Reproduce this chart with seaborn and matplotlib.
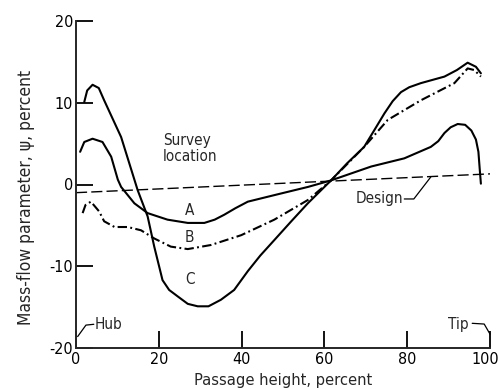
import matplotlib
matplotlib.use("Agg")
import matplotlib.pyplot as plt
import matplotlib.transforms as mtransforms
import seaborn as sns
import pandas as pd

# ---- data ----
a_x = [1.0, 2.0, 4.0, 6.4, 8.5, 10.1, 10.9, 14.1, 17.3, 22.1, 27.0, 31.0, 33.5, 35.8, 38.5, 41.5,
       47.9, 56.0, 61.6, 71.3, 79.3, 85.7, 87.5, 89.0, 90.5, 92.2, 94.0, 95.5, 96.6, 97.2, 97.5, 97.8]
a_y = [4.0, 5.2, 5.6, 5.2, 3.4, 0.6, -0.3, -2.3, -3.5, -4.3, -4.7, -4.7, -4.3, -3.7, -2.9, -2.1,
       -1.3, -0.3, 0.5, 2.2, 3.2, 4.6, 5.3, 6.3, 7.0, 7.4, 7.3, 6.6, 5.5, 4.0, 2.0, 0.1]

b_x = [1.6, 2.3, 3.6, 5.6, 6.8, 9.3, 12.5, 15.7, 18.9, 22.9, 27.0, 32.6, 39.9, 47.9,
       56.0, 61.6, 69.6, 75.3, 83.3, 91.4, 94.6, 96.2, 97.8]
b_y = [-3.5, -2.5, -2.1, -3.3, -4.5, -5.2, -5.2, -5.6, -6.6, -7.6, -7.9, -7.4, -6.2, -4.3,
       -1.9, 0.5, 4.6, 7.9, 10.3, 12.4, 14.2, 14.0, 13.2]

c_x = [2.0, 2.7, 4.0, 5.5, 6.8, 10.9, 14.9, 17.3, 18.9, 20.9, 22.5, 24.6, 27.0, 29.4, 32.0,
       35.0, 38.2, 41.5, 44.5, 47.9, 52.0, 56.0, 61.6, 65.5, 69.6, 72.0, 74.5, 76.5, 78.5,
       80.5, 83.3, 89.0, 92.0, 94.6, 96.6, 97.8]
c_y = [10.1, 11.5, 12.2, 11.8, 10.3, 5.8, -0.7, -3.9, -7.6, -11.7, -12.9, -13.7, -14.6, -14.9, -14.9,
       -14.1, -12.9, -10.6, -8.7, -6.8, -4.5, -2.3, 0.5, 2.6, 4.6, 6.6, 8.7, 10.2, 11.3,
       11.9, 12.4, 13.2, 14.0, 14.9, 14.4, 13.6]

design_x = [0, 100]
design_y = [-1.0, 1.3]

x_ticks = [0, 20, 40, 60, 80, 100]
y_ticks = [-20, -10, 0, 10, 20]

curve_labels = ["A", "B", "C"]
curve_label_x = [27.5, 27.5, 27.5]
curve_label_y = [-3.2, -6.5, -11.6]

# ---- style ----
sns.set_style("ticks")
plt.rcParams['font.family'] = ['DejaVu Sans']
plt.rcParams['font.stretch'] = 'condensed'
plt.rcParams['axes.linewidth'] = 1.4

FS = 11

fig = plt.figure(figsize=(4.99, 3.89), dpi=100)
ax = fig.add_axes([76/499, 1 - 348/389, 414/499, 327/389])

df_a = pd.DataFrame({"x": a_x, "y": a_y})
df_b = pd.DataFrame({"x": b_x, "y": b_y})
df_c = pd.DataFrame({"x": c_x, "y": c_y})
df_d = pd.DataFrame({"x": design_x, "y": design_y})

sns.lineplot(data=df_a, x="x", y="y", sort=False, estimator=None, color="black", lw=1.5, ax=ax)
sns.lineplot(data=df_c, x="x", y="y", sort=False, estimator=None, color="black", lw=1.5, ax=ax)
sns.lineplot(data=df_b, x="x", y="y", sort=False, estimator=None, color="black", lw=1.5, ax=ax)
ax.lines[-1].set_linestyle((0, (4.5, 1.6, 0.9, 1.6)))
sns.lineplot(data=df_d, x="x", y="y", sort=False, estimator=None, color="black", lw=1.0, ax=ax)
ax.lines[-1].set_linestyle((0, (8, 3)))
for ln in ax.lines:
    ln.set_solid_joinstyle("round")
    ln.set_solid_capstyle("round")

ax.set_xlim(0, 100)
ax.set_ylim(-20, 20)
ax.set_xticks(x_ticks)
ax.set_yticks(y_ticks)
ax.set_xticklabels([str(v) for v in x_ticks])
ax.set_yticklabels([str(v) for v in y_ticks])
ax.tick_params(direction="in", length=12.5, width=1.3, labelsize=11.5, color="black",
               labelcolor="black")
ax.tick_params(axis="y", pad=2)
ax.tick_params(axis="x", pad=3)
sns.despine(ax=ax)

ax.set_xlabel("Passage height, percent", fontsize=11.8)
ax.set_ylabel("Mass-flow parameter, \u03c8, percent", fontsize=12.5)
ax.xaxis.set_label_coords(0.5, -0.075)
ax.yaxis.set_label_coords(-0.10, 0.46)

# annotations
ax.text(21.0, 4.4, "Survey\nlocation", fontsize=FS, ha="left", va="center", linespacing=1.1)
for lab, lx, ly in zip(curve_labels, curve_label_x, curve_label_y):
    ax.text(lx, ly, lab, fontsize=FS, ha="center", va="center")

ax.text(79.0, -2.3, "Design", fontsize=FS, ha="right", va="baseline")
ax.plot([79.3, 81.6, 85.7], [-1.77, -1.77, 0.92], color="black", lw=0.9)

ax.text(4.6, -17.1, "Hub", fontsize=FS, ha="left", va="center")
ax.plot([0.4, 2.4, 4.3], [-18.6, -17.2, -17.1], color="black", lw=0.9)

ax.text(94.9, -17.1, "Tip", fontsize=FS, ha="right", va="center")
ax.plot([95.7, 98.6, 100.0], [-16.98, -17.07, -18.3], color="black", lw=0.9, clip_on=False)

# keep the "100" label inside the picture
last = ax.xaxis.get_major_ticks()[-1].label1
last.set_transform(last.get_transform() + mtransforms.ScaledTranslation(-5/100, 0, fig.dpi_scale_trans))

fig.savefig("out.png", dpi=100)
